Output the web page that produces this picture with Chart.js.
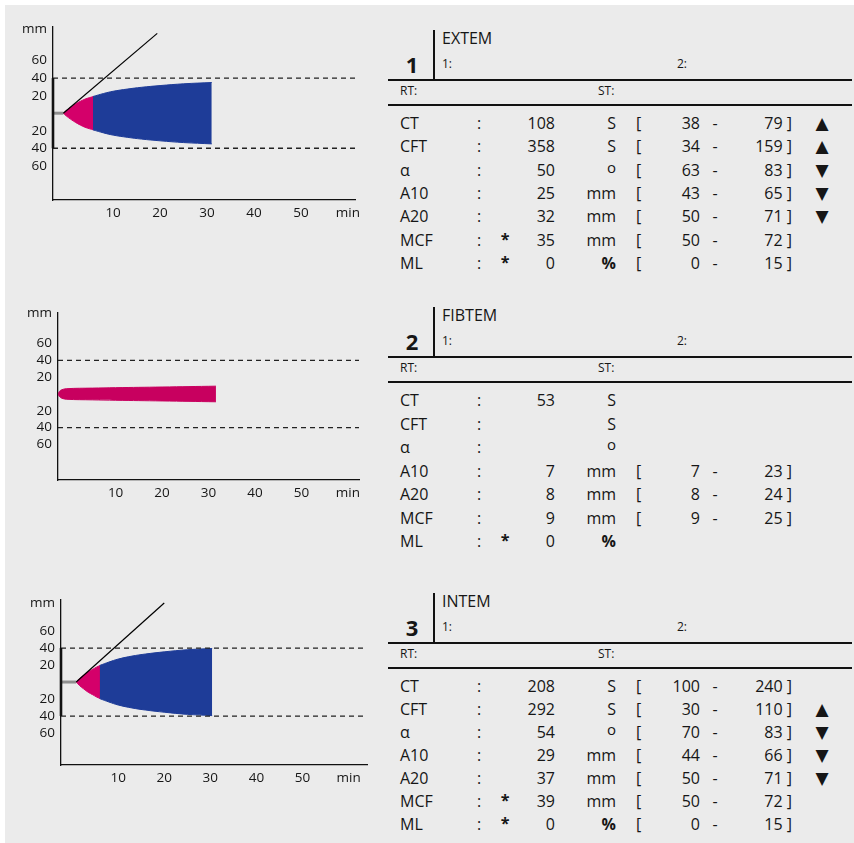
<!DOCTYPE html>
<html>
<head>
<meta charset="utf-8">
<script src="https://cdn.jsdelivr.net/npm/chart.js@4.4.1/dist/chart.umd.min.js"></script>
<style>
  body { margin: 0; background: #fff; font-family: "Open Sans", "DejaVu Sans", sans-serif; color: #161616; }
  #sheet { position: absolute; left: 5px; top: 5px; width: 849px; height: 838px; background: #ebebeb; }
  canvas { position: absolute; left: 0; }
  .t { position: absolute; white-space: nowrap; line-height: 1; }
  .rule { position: absolute; background: #111; }
</style>
</head>
<body>
<div id="sheet"></div>
<canvas id="c1" width="380" height="240" style="top:0px"></canvas>
<canvas id="c2" width="380" height="240" style="top:280px"></canvas>
<canvas id="c3" width="380" height="240" style="top:565px"></canvas>
<div id="tables"></div>
<script>
// ---- temogram axes ----
const xTicks = [10, 20, 30, 40, 50, 60];        // 60 carries the "min" label
const yTicks = [-60, -40, -20, 20, 40, 60];
const refLevel = 40;

// ---- EXTEM trace (time in min, amplitude in mm) ----
const extemStubT = [-2.8, -0.6];
const extemPinkT = [-0.6, 0, 1, 2, 3, 4, 5, 5.8];
const extemPinkA = [0, 3, 7, 10.5, 13.5, 16, 17.8, 19];
const extemBlueT = [5.7, 8, 10, 13, 16, 20, 25, 31];
const extemBlueA = [19, 22.5, 25, 27.5, 29.5, 31.5, 33.5, 35];
const extemTanT = [-0.6, 19.4];
const extemTanA = [0, 91];

// ---- FIBTEM trace ----
const fibtemPinkT = [-2.4, -2.1, -1.6, -0.5, 5, 10, 20, 31.6];
const fibtemPinkA = [0, 3, 5, 6.3, 7, 7.5, 8.3, 9.3];

// ---- INTEM trace ----
const intemStubT = [-2.4, 0.9];
const intemPinkT = [0.9, 1.6, 2.5, 3.5, 4.5, 5.3, 6.1];
const intemPinkA = [0, 4, 8, 12, 15, 17.5, 19.5];
const intemBlueT = [6, 8, 10, 13, 16, 20, 25, 30.4];
const intemBlueA = [19.5, 23.5, 27, 30.5, 33, 35.5, 38, 39.5];
const intemTanT = [0.9, 20];
const intemTanA = [0, 93];

// ---- result tables ----
const testNames = ['EXTEM', 'FIBTEM', 'INTEM'];
const params = ['CT', 'CFT', 'α', 'A10', 'A20', 'MCF', 'ML'];
const units = ['S', 'S', 'o', 'mm', 'mm', 'mm', '%'];

const extemValues = [108, 358, 50, 25, 32, 35, 0];
const extemStars = ['', '', '', '', '', '*', '*'];
const extemLow = [38, 34, 63, 43, 50, 50, 0];
const extemHigh = [79, 159, 83, 65, 71, 72, 15];
const extemFlags = ['▲', '▲', '▼', '▼', '▼', '', ''];

const fibtemValues = [53, null, null, 7, 8, 9, 0];
const fibtemStars = ['', '', '', '', '', '', '*'];
const fibtemLow = [null, null, null, 7, 8, 9, null];
const fibtemHigh = [null, null, null, 23, 24, 25, null];
const fibtemFlags = ['', '', '', '', '', '', ''];

const intemValues = [208, 292, 54, 29, 37, 39, 0];
const intemStars = ['', '', '', '', '', '*', '*'];
const intemLow = [100, 30, 70, 44, 50, 50, 0];
const intemHigh = [240, 110, 83, 66, 71, 72, 15];
const intemFlags = ['', '▲', '▼', '▼', '▼', '', ''];

const PINK = '#d4006a', PINK2 = '#c8005f', BLUE = '#1e3c98', INK = '#111';

function pts(ts, as, sign) {
  return ts.map((t, i) => ({ x: t, y: sign * as[i] }));
}

function temogram(id, layout, trace) {
  const ds = [];
  const [x0, x1] = layout.x;
  if (trace.thickAxis) {
    ds.push({ data: [{ x: x0, y: -refLevel }, { x: x0, y: refLevel }], borderColor: INK, borderWidth: 2.6, clip: false });
  }
  if (trace.tanT) {
    ds.push({ data: pts(trace.tanT, trace.tanA, 1), borderColor: '#000', borderWidth: 1.2 });
  }
  [refLevel, -refLevel].forEach(lv => {
    ds.push({ data: [{ x: x0, y: lv }, { x: x1, y: lv }], borderColor: '#222', borderWidth: 1.3, borderDash: [5, 4] });
  });
  if (trace.stubT) {
    ds.push({ data: trace.stubT.map(t => ({ x: t, y: 0 })), borderColor: '#8e8e8e', borderWidth: 3, clip: false });
  }
  if (trace.blueT) {
    ds.push({ data: pts(trace.blueT, trace.blueA, 1), borderColor: BLUE, backgroundColor: BLUE, borderWidth: 1, fill: '+1', tension: 0.4 });
    ds.push({ data: pts(trace.blueT, trace.blueA, -1), borderColor: BLUE, borderWidth: 1, tension: 0.4 });
  }
  ds.push({ data: pts(trace.pinkT, trace.pinkA, 1), borderColor: trace.pink, backgroundColor: trace.pink, borderWidth: 1, fill: '+1', tension: 0.4 });
  ds.push({ data: pts(trace.pinkT, trace.pinkA, -1), borderColor: trace.pink, borderWidth: 1, tension: 0.4 });

  const a = layout.area;
  new Chart(document.getElementById(id), {
    type: 'line',
    data: { datasets: ds },
    options: {
      responsive: false,
      animation: false,
      events: [],
      elements: { point: { radius: 0 } },
      layout: { autoPadding: false, padding: { left: 0, top: a.t, right: 380 - a.r, bottom: 0 } },
      plugins: { legend: { display: false }, tooltip: { enabled: false } },
      scales: {
        x: {
          type: 'linear', min: x0, max: x1,
          grid: { display: false, drawTicks: false },
          border: { display: true, color: INK, width: 1.3 },
          afterFit: s => { s.height = 240 - a.b; },
          afterBuildTicks: s => { s.ticks = xTicks.map(v => ({ value: v })); },
          ticks: {
            padding: 5, color: '#161616', font: { family: 'Open Sans', size: 13.5 },
            callback: v => (v === 60 ? 'min' : v)
          }
        },
        y: {
          type: 'linear', min: layout.y[0], max: layout.y[1],
          grid: { display: false, drawTicks: false },
          border: { display: true, color: INK, width: 1.3 },
          afterFit: s => { s.width = a.l; },
          afterBuildTicks: s => { s.ticks = yTicks.concat([layout.mm]).map(v => ({ value: v })); },
          ticks: {
            padding: 6, color: '#161616', font: { family: 'Open Sans', size: 13.5 },
            callback: v => (v === layout.mm ? 'mm' : Math.abs(v))
          }
        }
      }
    }
  });
}

temogram('c1',
  { area: { l: 53, t: 27, r: 355, b: 200 }, x: [-2.8, 61.5], y: [-99, 98.3], mm: 96 },
  { thickAxis: true, tanT: extemTanT, tanA: extemTanA, stubT: extemStubT,
    pinkT: extemPinkT, pinkA: extemPinkA, pink: PINK, blueT: extemBlueT, blueA: extemBlueA });
temogram('c2',
  { area: { l: 58, t: 33, r: 359, b: 200 }, x: [-2.4, 62.4], y: [-102.4, 96.4], mm: 96.4 },
  { pinkT: fibtemPinkT, pinkA: fibtemPinkA, pink: PINK2 });
temogram('c3',
  { area: { l: 61, t: 35, r: 367, b: 200 }, x: [-2.4, 64], y: [-97.6, 96.5], mm: 93 },
  { thickAxis: true, tanT: intemTanT, tanA: intemTanA, stubT: intemStubT,
    pinkT: intemPinkT, pinkA: intemPinkA, pink: PINK, blueT: intemBlueT, blueA: intemBlueA });

// ---- tables ----
const host = document.getElementById('tables');
function put(text, x, y, align, size, extra) {
  const d = document.createElement('div');
  d.className = 't';
  d.textContent = text;
  d.style.left = x + 'px';
  d.style.top = y + 'px';
  d.style.fontSize = size + 'px';
  const tx = align === 'r' ? '-100%' : align === 'c' ? '-50%' : '0';
  d.style.transform = 'translate(' + tx + ',-50%)';
  if (extra) Object.assign(d.style, extra);
  host.appendChild(d);
}
function rule(x, y, w, h) {
  const d = document.createElement('div');
  d.className = 'rule';
  Object.assign(d.style, { left: x + 'px', top: y + 'px', width: w + 'px', height: h + 'px' });
  host.appendChild(d);
}

const tables = [
  { base: 80, step: 23.3, vals: extemValues, stars: extemStars, low: extemLow, high: extemHigh, flags: extemFlags },
  { base: 357, step: 23.5, vals: fibtemValues, stars: fibtemStars, low: fibtemLow, high: fibtemHigh, flags: fibtemFlags },
  { base: 643, step: 23, vals: intemValues, stars: intemStars, low: intemLow, high: intemHigh, flags: intemFlags }
];

const FS = 16;
tables.forEach((tb, k) => {
  const b = tb.base;
  put(String(k + 1), 412, b - 16, 'c', 22, { fontWeight: 'bold' });
  rule(433, b - 50, 2, 50);
  put(testNames[k], 442, b - 42, 'l', FS);
  put('1:', 442, b - 16, 'l', 12);
  put('2:', 677, b - 16, 'l', 12);
  rule(388, b - 1, 464, 2);
  put('RT:', 400, b + 11, 'l', 12);
  put('ST:', 598, b + 11, 'l', 12);
  rule(388, b + 24, 464, 2);
  params.forEach((p, i) => {
    const y = b + 43 + i * tb.step;
    put(p, 400, y, 'l', FS);
    put(':', 479, y, 'c', FS);
    if (tb.stars[i]) put(tb.stars[i], 505, y - 1, 'c', FS, { fontWeight: 'bold' });
    if (tb.vals[i] !== null) put(String(tb.vals[i]), 555, y, 'r', FS);
    if (units[i] === 'o') put('o', 616, y - 3, 'r', 15);
    else put(units[i], 616, y, 'r', FS, units[i] === '%' ? { fontWeight: 'bold' } : null);
    if (tb.low[i] !== null) {
      put('[', 636, y, 'l', FS);
      put(String(tb.low[i]), 700, y, 'r', FS);
      put('-', 715, y, 'c', FS);
      put(String(tb.high[i]) + ' ]', 792, y, 'r', FS);
    }
    if (tb.flags[i]) put(tb.flags[i], 822, y, 'c', 17, { fontFamily: 'DejaVu Sans' });
  });
});
</script>
</body>
</html>
